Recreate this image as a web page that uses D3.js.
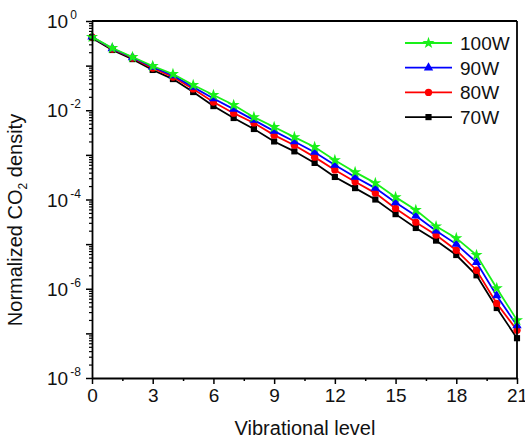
<!DOCTYPE html>
<html>
<head>
<meta charset="utf-8">
<script src="https://cdn.jsdelivr.net/npm/d3@7"></script>
<style>
    body { margin: 0; background: #fff; }
    svg { display: block; font-family: Arial, "Liberation Sans", sans-serif; }
</style>
</head>
<body>
<svg id="chart" width="525" height="440"></svg>
<script>
const levels = [0, 1, 2, 3, 4, 5, 6, 7, 8, 9, 10, 11, 12, 13, 14, 15, 16, 17, 18, 19, 20, 21];

const w100 = [0.44, 0.248, 0.156, 0.098, 0.0648, 0.0367, 0.0219, 0.0131, 7.0e-3, 4.2e-3, 2.5e-3,
    1.5e-3, 7.6e-4, 4.1e-4, 2.33e-4, 1.13e-4, 5.8e-5, 2.5e-5, 1.36e-5, 5.7e-6, 1.03e-6, 1.98e-7];
const w90 = [0.44, 0.242, 0.152, 0.093, 0.060, 0.033, 0.0183, 0.0106, 6.0e-3, 3.4e-3, 2.0e-3,
    1.15e-3, 5.9e-4, 3.2e-4, 1.8e-4, 8.6e-5, 4.3e-5, 2.0e-5, 1.0e-5, 3.9e-6, 7.0e-7, 1.5e-7];
const w80 = [0.44, 0.235, 0.148, 0.088, 0.0555, 0.030, 0.0153, 8.6e-3, 5.2e-3, 2.77e-3, 1.65e-3,
    8.9e-4, 4.6e-4, 2.5e-4, 1.39e-4, 6.3e-5, 3.1e-5, 1.6e-5, 7.3e-6, 2.6e-6, 4.7e-7, 1.17e-7];
const w70 = [0.415, 0.224, 0.14, 0.08, 0.05, 0.0256, 0.0124, 6.7e-3, 3.8e-3, 2.0e-3, 1.2e-3,
    6.6e-4, 3.2e-4, 1.8e-4, 1.0e-4, 4.7e-5, 2.3e-5, 1.2e-5, 5.7e-6, 2.0e-6, 3.7e-7, 7.8e-8];

const seriesNames = ["100W", "90W", "80W", "70W"];
const xTicks = [0, 3, 6, 9, 12, 15, 18, 21];
const yTickExp = [0, -2, -4, -6, -8];

const margin = { top: 21, right: 8, bottom: 62, left: 92 };
const W = 525;
const H = 440;
const innerW = W - margin.left - margin.right;
const innerH = H - margin.top - margin.bottom;

const svg = d3.select("#chart");
const g = svg.append("g")
    .attr("transform", `translate(${margin.left},${margin.top})`);

const xScale = d3.scaleLinear().domain([0, 21]).range([0, innerW]);
const yScale = d3.scaleLog().domain([1e-8, 1]).range([innerH, 0]);

const styles = {
    "100W": { color: "#19f019", symbol: d3.symbolStar, size: 45 },
    "90W": { color: "#0000ff", symbol: d3.symbolTriangle, size: 38 },
    "80W": { color: "#ff0000", symbol: d3.symbolCircle, size: 42 },
    "70W": { color: "#000000", symbol: d3.symbolSquare, size: 38 }
};

const series = [
    { name: "70W", values: w70 },
    { name: "80W", values: w80 },
    { name: "90W", values: w90 },
    { name: "100W", values: w100 }
];

// Lines and markers

const line = d3.line()
    .x((d, i) => xScale(levels[i]))
    .y(d => yScale(d));

series.forEach(s => {
    const st = styles[s.name];
    g.append("path")
        .datum(s.values)
        .attr("fill", "none")
        .attr("stroke", st.color)
        .attr("stroke-width", 1.8)
        .attr("d", line);

    g.selectAll(null)
        .data(s.values)
        .enter()
        .append("path")
        .attr("transform", (d, i) => `translate(${xScale(levels[i])},${yScale(d)})`)
        .attr("d", d3.symbol().type(st.symbol).size(st.size))
        .attr("fill", st.color);
});

// Axis X

const minorX = xTicks.slice(0, -1).map(t => t + 1.5);

g.append("g")
    .attr("transform", `translate(0,${innerH})`)
    .call(d3.axisBottom(xScale).tickValues(minorX).tickSize(3).tickFormat(""))
    .call(a => a.select(".domain").remove())
    .selectAll("line").attr("stroke-width", 1.5);

const xAxis = g.append("g")
    .attr("transform", `translate(0,${innerH})`)
    .call(d3.axisBottom(xScale).tickValues(xTicks).tickSize(6).tickSizeOuter(0).tickPadding(5));

xAxis.select(".domain").attr("stroke-width", 1.8);
xAxis.selectAll("line").attr("stroke-width", 1.5);
xAxis.selectAll("text")
    .attr("font-size", 19)
    .attr("fill", "#111");

// Axis Y

const minorY = [];
for (let e = -8; e < 0; e++) {
    for (let m = 2; m <= 9; m++) minorY.push(m * Math.pow(10, e));
}
const majorY = [1, 1e-1, 1e-2, 1e-3, 1e-4, 1e-5, 1e-6, 1e-7, 1e-8];

g.append("g")
    .call(d3.axisLeft(yScale).tickValues(minorY).tickSize(3).tickFormat(""))
    .call(a => a.select(".domain").remove())
    .selectAll("line").attr("stroke-width", 1.2);

const yAxis = g.append("g")
    .call(d3.axisLeft(yScale).tickValues(majorY).tickSize(6).tickSizeOuter(0).tickFormat(""));

yAxis.select(".domain").attr("stroke-width", 1.8);
yAxis.selectAll("line").attr("stroke-width", 1.5);

const yLabels = g.append("g")
    .selectAll("text")
    .data(yTickExp)
    .enter()
    .append("text")
    .attr("x", -45)
    .attr("y", d => yScale(Math.pow(10, d)) + 7)
    .attr("font-size", 19)
    .attr("fill", "#111");

yLabels.append("tspan").text("10");
yLabels.append("tspan")
    .attr("dx", 2)
    .attr("dy", -9)
    .attr("font-size", 12)
    .text(d => d === 0 ? "0" : "-" + Math.abs(d));

// Frame

g.append("line")
    .attr("x1", 0).attr("x2", innerW)
    .attr("y1", 0).attr("y2", 0)
    .attr("stroke", "#000").attr("stroke-width", 2.2);

g.append("line")
    .attr("x1", innerW).attr("x2", innerW)
    .attr("y1", 0).attr("y2", innerH)
    .attr("stroke", "#000").attr("stroke-width", 1.8);

// Label X

g.append("text")
    .attr("x", 213)
    .attr("y", innerH + 57)
    .attr("text-anchor", "middle")
    .attr("font-size", 20)
    .attr("fill", "#111")
    .text("Vibrational level");

// Label Y

const yTitle = g.append("text")
    .attr("transform", "rotate(-90)")
    .attr("x", -199)
    .attr("y", -70)
    .attr("text-anchor", "middle")
    .attr("font-size", 20)
    .attr("fill", "#111");

yTitle.append("tspan").text("Normalized CO");
yTitle.append("tspan").attr("font-size", 12).attr("dy", 5).text("2");
yTitle.append("tspan").attr("dy", -5).text(" density");

// Legend

const legend = g.append("g")
    .attr("transform", "translate(313,22)");

seriesNames.forEach((name, i) => {
    const st = styles[name];
    const row = legend.append("g")
        .attr("transform", `translate(0,${i * 24.7})`);
    row.append("line")
        .attr("x1", 0).attr("x2", 47)
        .attr("stroke", st.color)
        .attr("stroke-width", 1.8);
    row.append("path")
        .attr("transform", "translate(23.5,0)")
        .attr("d", d3.symbol().type(st.symbol).size(st.size))
        .attr("fill", st.color);
    row.append("text")
        .attr("x", 55)
        .attr("y", 7)
        .attr("font-size", 19)
        .attr("fill", "#111")
        .text(name);
});
</script>
</body>
</html>
